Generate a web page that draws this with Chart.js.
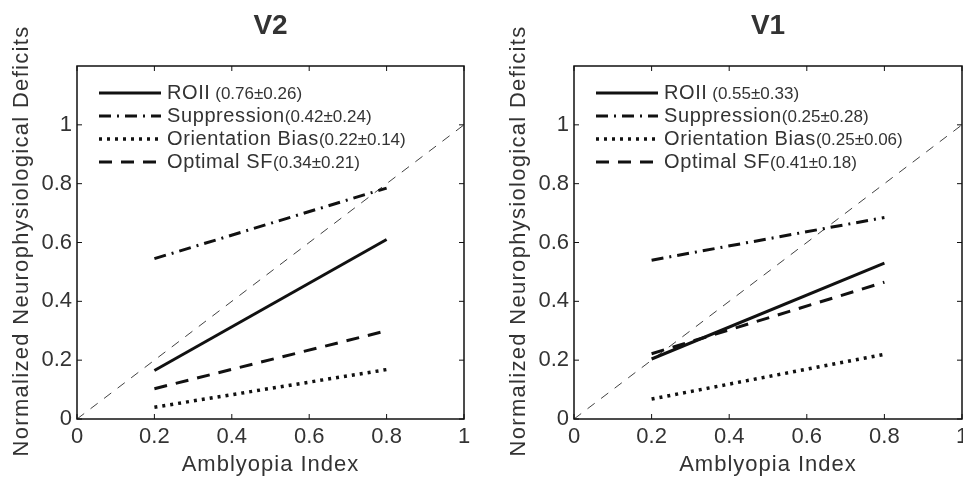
<!DOCTYPE html>
<html>
<head>
<meta charset="utf-8">
<script src="https://cdn.jsdelivr.net/npm/chart.js@4"></script>
<style>
  body { margin: 0; background: #fff; }
  #wrap { display: flex; width: 963px; height: 478px; }
  canvas { display: block; }
</style>
</head>
<body>
<div id="wrap">
  <canvas id="v2" width="481" height="478"></canvas>
  <canvas id="v1" width="482" height="478"></canvas>
</div>
<script>
// values
const aiIndex = [0.2, 0.8];
const unityX = [0, 1];
const unityY = [0, 1];
const seriesNames = ['ROII', 'Suppression', 'Orientation Bias', 'Optimal SF'];

const v2Roii = [0.165, 0.61];
const v2Supp = [0.545, 0.785];
const v2Orient = [0.04, 0.168];
const v2Sf = [0.103, 0.30];
const v2Stats = [' (0.76±0.26)', '(0.42±0.24)', '(0.22±0.14)', '(0.34±0.21)'];

const v1Roii = [0.204, 0.53];
const v1Supp = [0.54, 0.685];
const v1Orient = [0.068, 0.22];
const v1Sf = [0.222, 0.465];
const v1Stats = [' (0.55±0.33)', '(0.25±0.28)', '(0.25±0.06)', '(0.41±0.18)'];

const xTicks = [0, 0.2, 0.4, 0.6, 0.8, 1];
const yTicks = [0, 0.2, 0.4, 0.6, 0.8, 1];
const xTitle = 'Amblyopia Index';
const yTitle = 'Normalized Neurophysiological Deficits';

const FONT = "'Liberation Sans', Arial, Helvetica, sans-serif";
const INK = '#111';
const TEXT = '#333';

const lineStyles = [
    { borderWidth: 3, borderDash: [] },
    { borderWidth: 3, borderDash: [12, 6, 2, 6] },
    { borderWidth: 3.5, borderDash: [3, 5] },
    { borderWidth: 3, borderDash: [13, 9] }
];

function pts(xs, ys) {
    return xs.map((x, i) => ({ x, y: ys[i] }));
}

function fmtTick(v) {
    if (Math.abs(v) < 1e-9) return '0';
    if (Math.abs(v - 1) < 1e-9) return '1';
    if (v > 1.05) return '';
    return v.toFixed(1);
}

// box around the plot with inward ticks, panel title and axis titles
const framePlugin = {
    id: 'frame',
    afterDatasetsDraw(chart) {
        const { ctx, chartArea: a, scales } = chart;
        ctx.save();
        ctx.strokeStyle = INK;
        ctx.lineWidth = 1.5;
        ctx.strokeRect(a.left, a.top, a.right - a.left, a.bottom - a.top);
        ctx.lineWidth = 1;
        const len = 5;
        ctx.beginPath();
        xTicks.forEach(t => {
            const px = scales.x.getPixelForValue(t);
            ctx.moveTo(px, a.bottom); ctx.lineTo(px, a.bottom - len);
            ctx.moveTo(px, a.top); ctx.lineTo(px, a.top + len);
        });
        yTicks.forEach(t => {
            const py = scales.y.getPixelForValue(t);
            ctx.moveTo(a.left, py); ctx.lineTo(a.left + len, py);
            ctx.moveTo(a.right, py); ctx.lineTo(a.right - len, py);
        });
        ctx.stroke();

        ctx.fillStyle = TEXT;
        ctx.textAlign = 'center';
        ctx.textBaseline = 'middle';

        ctx.font = 'bold 28px ' + FONT;
        ctx.fillText(chart.options.plugins.panelTitle, (a.left + a.right) / 2, 26);

        ctx.font = '22px ' + FONT;
        ctx.letterSpacing = '1px';
        ctx.fillText(xTitle, (a.left + a.right) / 2, 465);

        ctx.letterSpacing = '1.3px';
        ctx.translate(a.left - 55, 241);
        ctx.rotate(-Math.PI / 2);
        ctx.fillText(yTitle, 0, 0);
        ctx.restore();
    }
};

// legend inside the top-left corner: sample line, name, stats in smaller type
const legendPlugin = {
    id: 'innerLegend',
    afterDatasetsDraw(chart) {
        const { ctx, chartArea: a } = chart;
        const stats = chart.options.plugins.stats;
        ctx.save();
        chart.data.datasets.forEach((ds, i) => {
            if (i >= seriesNames.length) return;
            const y = a.top + 27 + i * 23;
            const x0 = a.left + 22;
            ctx.strokeStyle = INK;
            ctx.lineWidth = ds.borderWidth;
            ctx.setLineDash(ds.borderDash);
            ctx.beginPath();
            ctx.moveTo(x0, y);
            ctx.lineTo(x0 + 62, y);
            ctx.stroke();
            ctx.setLineDash([]);
            ctx.fillStyle = TEXT;
            ctx.textBaseline = 'middle';
            ctx.textAlign = 'left';
            ctx.font = '20px ' + FONT;
            ctx.letterSpacing = '0.6px';
            const tx = x0 + 68;
            ctx.fillText(ds.label, tx, y);
            const w = ctx.measureText(ds.label).width;
            ctx.letterSpacing = '0px';
            ctx.font = '17px ' + FONT;
            ctx.fillText(stats[i], tx + w, y + 1);
        });
        ctx.restore();
    }
};

function makePanel(id, title, series, stats, padLeft, padRight) {
    const datasets = series.map((ys, i) => ({
        label: seriesNames[i],
        data: pts(aiIndex, ys),
        borderColor: INK,
        borderWidth: lineStyles[i].borderWidth,
        borderDash: lineStyles[i].borderDash,
        pointRadius: 0,
        fill: false
    }));
    datasets.push({
        label: 'unity',
        data: pts(unityX, unityY),
        borderColor: INK,
        borderWidth: 0.8,
        borderDash: [9, 8],
        pointRadius: 0,
        fill: false
    });

    return new Chart(document.getElementById(id), {
        type: 'line',
        data: { datasets },
        plugins: [framePlugin, legendPlugin],
        options: {
            responsive: false,
            animation: false,
            layout: { padding: { top: 66, left: padLeft, right: padRight, bottom: 0 } },
            plugins: {
                legend: { display: false },
                tooltip: { enabled: false },
                panelTitle: title,
                stats: stats
            },
            scales: {
                x: {
                    type: 'linear',
                    min: 0,
                    max: 1,
                    afterBuildTicks(s) { s.ticks = xTicks.map(v => ({ value: v })); },
                    afterFit(s) { s.height = 59; s.paddingLeft = 0; s.paddingRight = 0; },
                    grid: { display: false, drawTicks: false },
                    border: { display: false },
                    ticks: {
                        color: TEXT,
                        font: { family: FONT, size: 22 },
                        padding: 5,
                        maxRotation: 0,
                        autoSkip: false,
                        callback: v => fmtTick(v)
                    }
                },
                y: {
                    type: 'linear',
                    min: 0,
                    max: 1.2,
                    afterBuildTicks(s) { s.ticks = yTicks.concat([1.2]).map(v => ({ value: v })); },
                    afterFit(s) { s.width = 77; s.paddingTop = 0; s.paddingBottom = 0; },
                    grid: { display: false, drawTicks: false },
                    border: { display: false },
                    ticks: {
                        color: TEXT,
                        font: { family: FONT, size: 22 },
                        padding: 5,
                        autoSkip: false,
                        callback: v => fmtTick(v)
                    }
                }
            }
        }
    });
}

makePanel('v2', 'V2', [v2Roii, v2Supp, v2Orient, v2Sf], v2Stats, 0, 17);
makePanel('v1', 'V1', [v1Roii, v1Supp, v1Orient, v1Sf], v1Stats, 16, 1);
</script>
</body>
</html>
